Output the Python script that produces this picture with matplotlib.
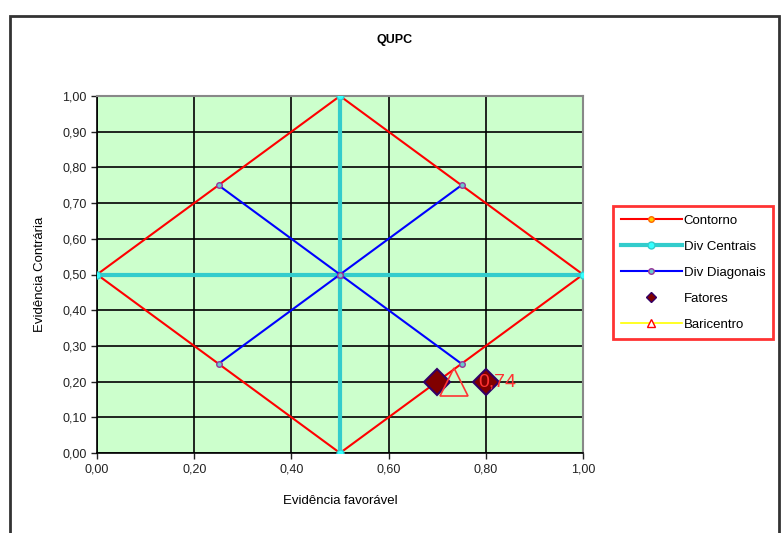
import matplotlib.pyplot as plt
from matplotlib.patches import Rectangle
from matplotlib.ticker import FuncFormatter, MultipleLocator

# series data
contorno_x = [0.0, 0.5, 1.0, 0.5, 0.0]
contorno_y = [0.5, 1.0, 0.5, 0.0, 0.5]
central_h_x = [0.0, 0.5, 1.0]
central_h_y = [0.5, 0.5, 0.5]
central_v_x = [0.5, 0.5, 0.5]
central_v_y = [0.0, 0.5, 1.0]
diag1_x = [0.25, 0.5, 0.75]
diag1_y = [0.25, 0.5, 0.75]
diag2_x = [0.25, 0.5, 0.75]
diag2_y = [0.75, 0.5, 0.25]
fatores_x = [0.70, 0.80]
fatores_y = [0.20, 0.20]
bari_x = [0.735]
bari_y = [0.20]
bari_label = "0,74"

plt.rcParams['font.family'] = ['Liberation Sans', 'DejaVu Sans']

fig = plt.figure(figsize=(7.82, 5.33), dpi=100)
# outer chart frame
fig.patches.append(Rectangle((10 / 782, -0.01), 769 / 782, 1 - 16 / 533 + 0.01,
                             transform=fig.transFigure, fill=False,
                             edgecolor='#333333', linewidth=2))

ax = fig.add_axes([97 / 782, 80 / 533, 486 / 782, 357 / 533])
ax.set_facecolor('#ccffcc')

ax.plot(contorno_x, contorno_y, color='red', lw=1.5, marker='o', ms=4,
        mfc='#ffcc00', mec='#ff6600', label='Contorno', zorder=3)
ax.plot(central_h_x, central_h_y, color='#33cccc', lw=3, marker='o', ms=5,
        mfc='#33ffff', mec='#33cccc', label='Div Centrais', zorder=3)
ax.plot(central_v_x, central_v_y, color='#33cccc', lw=3, marker='o', ms=5,
        mfc='#33ffff', mec='#33cccc', zorder=3)
ax.plot(diag1_x, diag1_y, color='#0000ff', lw=1.5, marker='o', ms=4,
        mfc='#66cccc', mec='#993399', label='Div Diagonais', zorder=4)
ax.plot(diag2_x, diag2_y, color='#0000ff', lw=1.5, marker='o', ms=4,
        mfc='#66cccc', mec='#993399', zorder=4)
ax.plot(fatores_x, fatores_y, ls='none', marker='D', ms=13,
        mfc='#800000', mec='#330066', mew=1.5, zorder=5)
ax.plot([], [], ls='none', marker='D', ms=5, mfc='#800000', mec='#330066',
        label='Fatores')
ax.plot(bari_x, bari_y, ls='none', marker='^', ms=20, mfc='none',
        mec='#ff3333', mew=1.2, zorder=5)
ax.plot([], [], color='#ffff00', lw=1.2, marker='^', ms=6, mfc='white',
        mec='red', label='Baricentro')
ax.text(bari_x[0] + 0.05, bari_y[0], bari_label, color='#ff3333',
        fontsize=14, va='center', ha='left', zorder=6)

ax.set_xlim(0, 1)
ax.set_ylim(0, 1)
ax.xaxis.set_major_locator(MultipleLocator(0.2))
ax.yaxis.set_major_locator(MultipleLocator(0.1))
fmt = FuncFormatter(lambda v, p: f"{v:.2f}".replace('.', ','))
ax.xaxis.set_major_formatter(fmt)
ax.yaxis.set_major_formatter(fmt)
ax.grid(True, color='black', lw=1.2)
ax.set_axisbelow(True)
ax.tick_params(direction='out', length=4, width=1, labelsize=9,
               colors='#222222')
for s in ['top', 'right']:
    ax.spines[s].set_color('#888888')
    ax.spines[s].set_linewidth(1.5)
for s in ['left', 'bottom']:
    ax.spines[s].set_color('black')
    ax.spines[s].set_linewidth(1.2)

ax.set_xlabel('Evidência favorável', fontsize=9.5, labelpad=14)
ax.set_ylabel('Evidência Contrária', fontsize=9.5, labelpad=12)
fig.text(395 / 782, 1 - 40 / 533, 'QUPC', fontsize=9, fontweight='bold',
         ha='center', va='center')

leg = ax.legend(loc='center left', bbox_to_anchor=(1.062, 0.505),
                frameon=True, fancybox=False, fontsize=9.5, handlelength=4.6,
                labelspacing=1.05, borderpad=0.6, handletextpad=0.15,
                borderaxespad=0)
leg.get_frame().set_edgecolor('red')
leg.get_frame().set_linewidth(2)

plt.savefig('out.png', dpi=100)
